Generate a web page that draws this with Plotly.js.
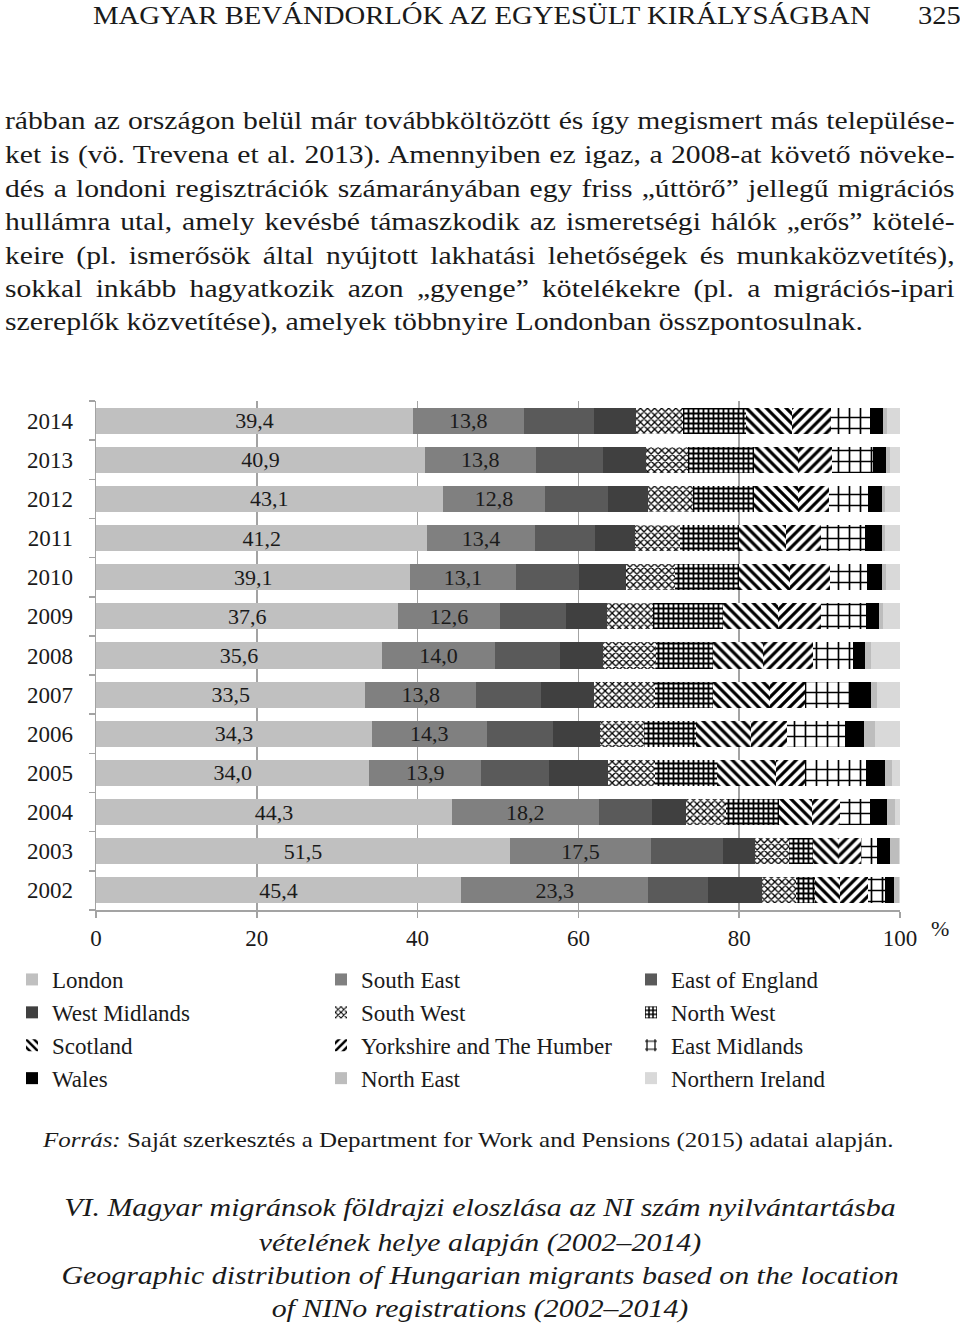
<!DOCTYPE html>
<html>
<head>
<meta charset="utf-8">
<script src="https://cdn.plot.ly/plotly-3.0.1.min.js"></script>
<style>
  html, body { margin:0; padding:0; background:#fff; }
  body { width:960px; height:1331px; position:relative; overflow:hidden; font-family:"Liberation Serif", "DejaVu Serif", serif; color:#1a1a1a; }
  #chart { position:absolute; left:0; top:0; width:960px; height:1331px; }
  .t { position:absolute; white-space:nowrap; pointer-events:none; transform-origin:0 0; }
  .j { position:absolute; left:5px; width:833px; text-align:justify; text-align-last:justify; white-space:normal; font-size:26px; line-height:30px; pointer-events:none; transform:scaleX(1.14); transform-origin:0 0; }
  .cap { position:absolute; left:0; width:960px; text-align:center; font-style:italic; font-size:26px; pointer-events:none; transform:scaleX(1.15); transform-origin:480px 0; }
</style>
</head>
<body>
<div id="chart"></div>

<div class="t" style="left:93px; top:1px; font-size:26px; transform:scaleX(1.105);">MAGYAR BEVÁNDORLÓK AZ EGYESÜLT KIRÁLYSÁGBAN</div>
<div class="t" style="left:918px; top:1px; font-size:26px; transform:scaleX(1.1);">325</div>

<div class="j" style="top:106px;">rábban az országon belül már továbbköltözött és így megismert más települése-</div>
<div class="j" style="top:140px;">ket is (vö. Trevena et al. 2013). Amennyiben ez igaz, a 2008-at követő növeke-</div>
<div class="j" style="top:174px;">dés a londoni regisztrációk számarányában egy friss „úttörő” jellegű migrációs</div>
<div class="j" style="top:207px;">hullámra utal, amely kevésbé támaszkodik az ismeretségi hálók „erős” kötelé-</div>
<div class="j" style="top:241px;">keire (pl. ismerősök által nyújtott lakhatási lehetőségek és munkaközvetítés),</div>
<div class="j" style="top:274px;">sokkal inkább hagyatkozik azon „gyenge” kötelékekre (pl. a migrációs-ipari</div>
<div class="t" style="left:5px; top:307px; font-size:26px; transform:scaleX(1.146);">szereplők közvetítése), amelyek többnyire Londonban összpontosulnak.</div>

<div class="t" style="left:43px; top:1127px; font-size:22px; transform:scaleX(1.135);"><i>Forrás:</i> Saját szerkesztés a Department for Work and Pensions (2015) adatai alapján.</div>

<div class="cap" style="top:1193px;">VI. Magyar migránsok földrajzi eloszlása az NI szám nyilvántartásba</div>
<div class="cap" style="top:1228px;">vételének helye alapján (2002–2014)</div>
<div class="cap" style="top:1261px;">Geographic distribution of Hungarian migrants based on the location</div>
<div class="cap" style="top:1294px;">of NINo registrations (2002–2014)</div>

<script>
// ---- Data (percent shares), years bottom (2002) to top (2014) ----
const years = ['2002','2003','2004','2005','2006','2007','2008','2009','2010','2011','2012','2013','2014'];
const london          = [45.4, 51.5, 44.3, 34.0, 34.3, 33.5, 35.6, 37.6, 39.1, 41.2, 43.1, 40.9, 39.4];
const southEast       = [23.3, 17.5, 18.2, 13.9, 14.3, 13.8, 14.0, 12.6, 13.1, 13.4, 12.8, 13.8, 13.8];
const eastOfEngland   = [ 7.4,  9.0,  6.7,  8.5,  8.3,  8.1,  8.1,  8.3,  7.9,  7.5,  7.8,  8.3,  8.7];
const westMidlands    = [ 6.7,  4.0,  4.2,  7.3,  5.8,  6.6,  5.3,  5.0,  5.8,  4.9,  4.9,  5.4,  5.3];
const southWest       = [ 4.3,  4.2,  5.0,  5.8,  5.4,  7.5,  6.6,  5.8,  6.1,  5.6,  5.6,  5.2,  5.8];
const northWest       = [ 2.3,  3.0,  6.6,  7.8,  6.5,  7.2,  7.2,  8.7,  8.0,  7.4,  7.6,  8.3,  7.9];
const scotland        = [ 3.1,  3.1,  4.1,  7.3,  6.9,  7.1,  6.1,  6.8,  6.3,  5.8,  5.5,  5.4,  5.7];
const yorkshire       = [ 3.5,  2.9,  3.4,  3.6,  4.5,  4.4,  6.3,  5.4,  5.0,  4.4,  3.9,  4.3,  4.8];
const eastMidlands    = [ 2.1,  2.0,  3.8,  7.6,  7.2,  5.5,  4.9,  5.6,  4.6,  5.5,  4.8,  5.1,  4.9];
const wales           = [ 1.1,  1.6,  2.1,  2.3,  2.3,  2.7,  1.6,  1.6,  1.8,  2.1,  1.7,  1.5,  1.6];
const northEast       = [ 0.7,  1.1,  1.0,  0.9,  1.4,  0.8,  0.7,  0.5,  0.5,  0.3,  0.4,  0.5,  0.5];
const northernIreland = [ 0.1,  0.1,  0.6,  1.0,  3.1,  2.8,  3.6,  2.1,  1.8,  1.9,  1.9,  1.3,  1.6];

const regionNames = ['London','South East','East of England','West Midlands','South West','North West',
  'Scotland','Yorkshire and The Humber','East Midlands','Wales','North East','Northern Ireland'];
const xTicks = [0, 20, 40, 60, 80, 100];

const series = [london, southEast, eastOfEngland, westMidlands, southWest, northWest,
  scotland, yorkshire, eastMidlands, wales, northEast, northernIreland];

// ---- Styles ----
const SERIF = '"Liberation Serif", "DejaVu Serif", serif';
const styles = [
  {color:'#c0c0c0'},
  {color:'#808080'},
  {color:'#5a5a5a'},
  {color:'#404040'},
  {color:'#ffffff', pattern:{shape:'x', size:5, solidity:0.45, fgcolor:'#000', bgcolor:'#fff', fillmode:'replace'}},
  {color:'#ffffff', pattern:{shape:'+', size:5, solidity:0.6, fgcolor:'#000', bgcolor:'#fff', fillmode:'replace'}},
  {color:'#ffffff', pattern:{shape:'\\', size:7, solidity:0.45, fgcolor:'#000', bgcolor:'#fff', fillmode:'replace'}},
  {color:'#ffffff', pattern:{shape:'/', size:7, solidity:0.45, fgcolor:'#000', bgcolor:'#fff', fillmode:'replace'}},
  {color:'#ffffff', pattern:{shape:'+', size:11, solidity:0.28, fgcolor:'#000', bgcolor:'#fff', fillmode:'replace'}},
  {color:'#000000'},
  {color:'#bdbdbd'},
  {color:'#d9d9d9'}
];
const legendOf = ['legend','legend2','legend3'];

const fmt = v => v.toFixed(1).replace('.', ',');

const traces = series.map((vals, i) => {
  const t = {
    type:'bar', orientation:'h', name: regionNames[i],
    x: vals, y: years,
    marker: Object.assign({line:{width:0}}, styles[i]),
    legend: legendOf[i % 3], legendgroup: 'g' + i,
    hoverinfo:'skip'
  };
  if (i < 2) {
    t.text = vals.map(fmt);
    t.textposition = 'inside';
    t.insidetextanchor = 'middle';
    t.textangle = 0;
    t.constraintext = 'none';
    t.textfont = {family:SERIF, size:22, color:'#1a1a1a'};
  } else {
    t.textposition = 'none';
  }
  return t;
});

const legendBase = {
  xref:'container', yref:'container', yanchor:'top', xanchor:'left',
  y: 1 - 958/1331, bgcolor:'rgba(0,0,0,0)', borderwidth:0,
  font:{family:SERIF, size:23, color:'#1a1a1a'}, tracegroupgap:0,
  itemclick:false, itemdoubleclick:false, traceorder:'normal'
};

const layout = {
  width:960, height:1331,
  margin:{l:96, r:60, t:401, b:421, autoexpand:false},
  paper_bgcolor:'#fff', plot_bgcolor:'#fff',
  barmode:'stack', bargap:0.335,
  font:{family:SERIF, color:'#1a1a1a'},
  xaxis:{
    range:[0,100], tickvals:xTicks, ticktext:xTicks.map(String),
    showgrid:true, gridcolor:'#a3a3a3', gridwidth:1.5,
    showline:true, linecolor:'#a3a3a3', linewidth:1.5,
    ticks:'outside', ticklen:6, tickcolor:'#a3a3a3', tickwidth:1.5,
    tickfont:{family:SERIF, size:23, color:'#1a1a1a'},
    ticklabelstandoff:1, zeroline:false, fixedrange:true, automargin:false
  },
  yaxis:{
    type:'category', categoryorder:'array', categoryarray:years,
    showline:true, linecolor:'#a3a3a3', linewidth:1.5,
    ticks:'outside', tickson:'boundaries', ticklen:6, tickcolor:'#a3a3a3', tickwidth:1.5,
    tickfont:{family:SERIF, size:23, color:'#1a1a1a'},
    ticklabelstandoff:17, showgrid:false, fixedrange:true, automargin:false
  },
  legend: Object.assign({}, legendBase, {x: 12/960}),
  legend2: Object.assign({}, legendBase, {x: 321/960}),
  legend3: Object.assign({}, legendBase, {x: 631/960}),
  annotations:[
    {xref:'paper', yref:'paper', x:1, y:0, xshift:40, yshift:-18, text:'%', showarrow:false,
     font:{family:SERIF, size:22, color:'#1a1a1a'}, xanchor:'center', yanchor:'middle'}
  ],
  showlegend:true
};

Plotly.newPlot('chart', traces, layout, {displayModeBar:false, staticPlot:true});
</script>
</body>
</html>
